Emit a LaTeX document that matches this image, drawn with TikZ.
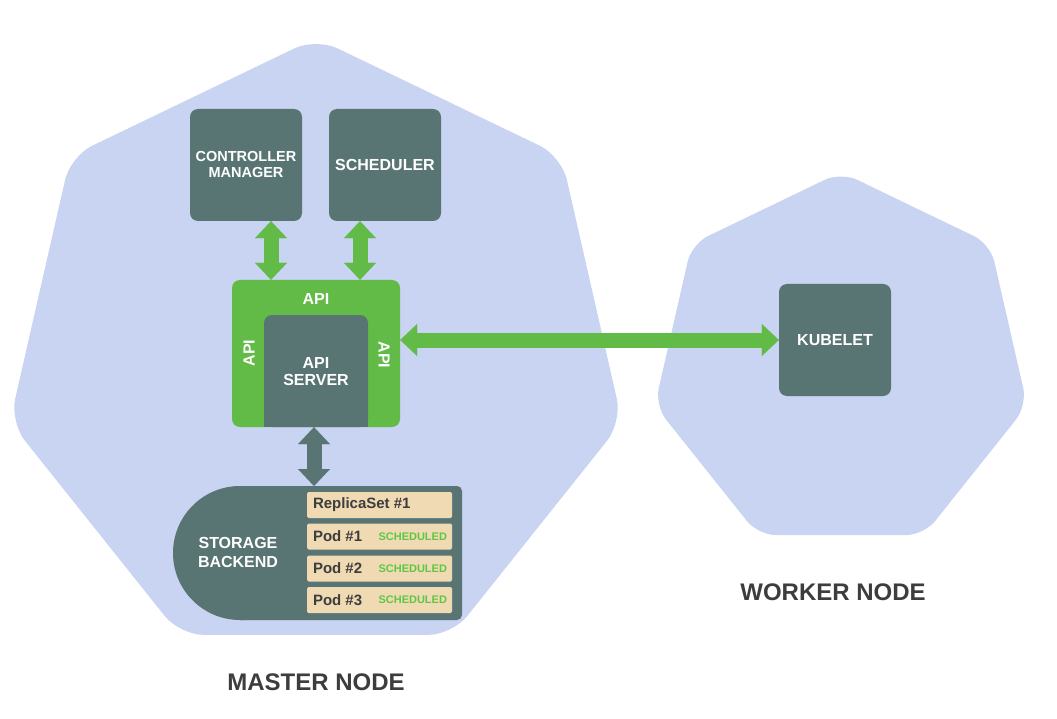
\documentclass[tikz,border=0pt]{standalone}
\usepackage{fontspec}
\setmainfont{Liberation Sans}
\usetikzlibrary{arrows.meta,calc}
\definecolor{hept}{HTML}{C8D4F2}
\definecolor{slate}{HTML}{587574}
\definecolor{kgreen}{HTML}{62BB47}
\definecolor{tan}{HTML}{EFDAB4}
\definecolor{ink}{HTML}{3D3D3D}
\definecolor{schedgreen}{HTML}{5FC744}
\tikzset{
  darkbox/.style={fill=slate, rounded corners=8pt, minimum width=112pt, minimum height=112pt, inner sep=0pt,
    text=white, align=center, font=\bfseries\fontsize{15}{16}\selectfont},
  lbl/.style={text=white, font=\bfseries\fontsize{16}{18}\selectfont, align=center, inner sep=0pt},
  rowbox/.style={fill=tan, rounded corners=1.5pt, minimum width=145pt, minimum height=26pt, inner sep=0pt},
  rowtext/.style={text=ink, font=\bfseries\fontsize{15}{16}\selectfont, inner sep=0pt, anchor=west},
  sched/.style={text=schedgreen, font=\bfseries\fontsize{11}{12}\selectfont, inner sep=0pt, anchor=east},
  title/.style={text=ink, font=\bfseries\fontsize{24}{26}\selectfont, inner sep=0pt},
  fatarrow/.style={line width=15pt, draw=#1,
    {Triangle[width=32pt,length=17pt,line width=0.01pt]}-{Triangle[width=32pt,length=17pt,line width=0.01pt]}},
}
\begin{document}
\begin{tikzpicture}[x=1pt,y=-1pt]
\useasboundingbox (0,0) rectangle (1057,719);
% heptagons
\fill[hept, rounded corners=24pt] (438.8,97.1) -- (561.5,156.2) -- (622.1,421.9) -- (452.2,634.9) -- (179.8,634.9)
  -- (9.9,421.9) -- (70.5,156.2) -- (316,38) -- cycle;
\fill[hept, rounded corners=18pt] (915.6,208.0) -- (990.3,243.9) -- (1027.2,405.5) -- (923.9,535.1) -- (758.1,535.1)
  -- (654.8,405.5) -- (691.7,243.9) -- (841,172) -- cycle;
% control plane boxes
\node[darkbox, font=\bfseries\fontsize{14.5}{16}\selectfont] (cm) at (246,165) {CONTROLLER\\MANAGER};
\node[darkbox, font=\bfseries\fontsize{16}{18}\selectfont] (sch) at (385,165) {SCHEDULER};
% API box
\node[fill=kgreen, rounded corners=8pt, minimum width=168pt, minimum height=147pt, inner sep=0pt] (api) at (316,353.5) {};
\fill[slate, rounded corners=8pt] (264,427) |- (368,315) -- (368,427) -- cycle;
\fill[slate] (264,400) rectangle (368,427);
\node[lbl] (apis) at (316,372) {API\\[-1pt]SERVER};
\node[lbl] (apit) at (316,299) {API};
\node[lbl, rotate=90] (apil) at (249,353) {API};
\node[lbl, rotate=-90] (apir) at (384,355) {API};
% kubelet
\node[darkbox, font=\bfseries\fontsize{16}{18}\selectfont] (kub) at (835,340) {KUBELET};
% storage backend
\fill[slate, rounded corners=5pt] (240,620) -- (462,620) -- (462,486) -- (240,486);
\fill[slate] (240,486) arc[start angle=-90, end angle=-270, radius=67] -- (246,620) -- (246,486) -- cycle;
\node[lbl, font=\bfseries\fontsize{16}{19}\selectfont] (stor) at (238,552) {STORAGE\\BACKEND};
\coordinate (storetop) at (314,486);
\node[rowbox] (r1) at (379.5,505) {};
\node[rowbox] (r2) at (379.5,536.5) {};
\node[rowbox] (r3) at (379.5,568.5) {};
\node[rowbox] (r4) at (379.5,600) {};
\node[rowtext] (t1) at ([xshift=6pt]r1.west) {ReplicaSet \#1};
\node[rowtext] (t2) at ([xshift=6pt]r2.west) {Pod \#1};
\node[rowtext] (t3) at ([xshift=6pt]r3.west) {Pod \#2};
\node[rowtext] (t4) at ([xshift=6pt]r4.west) {Pod \#3};
\node[sched] (s2) at ([xshift=-5pt]r2.east) {SCHEDULED};
\node[sched] (s3) at ([xshift=-5pt]r3.east) {SCHEDULED};
\node[sched] (s4) at ([xshift=-5pt]r4.east) {SCHEDULED};
% arrows
\draw[fatarrow=kgreen] (271,0 |- cm.south) -- (271,0 |- api.north);
\draw[fatarrow=kgreen] (360,0 |- sch.south) -- (360,0 |- api.north);
\draw[fatarrow=kgreen] (api.east |- 0,340) -- (kub.west);
\draw[fatarrow=slate] (314,0 |- api.south) -- (storetop);
% titles
\node[title] (mt) at (316,682) {MASTER NODE};
\node[title] (wt) at (833,592) {WORKER NODE};
\end{tikzpicture}
\end{document}
